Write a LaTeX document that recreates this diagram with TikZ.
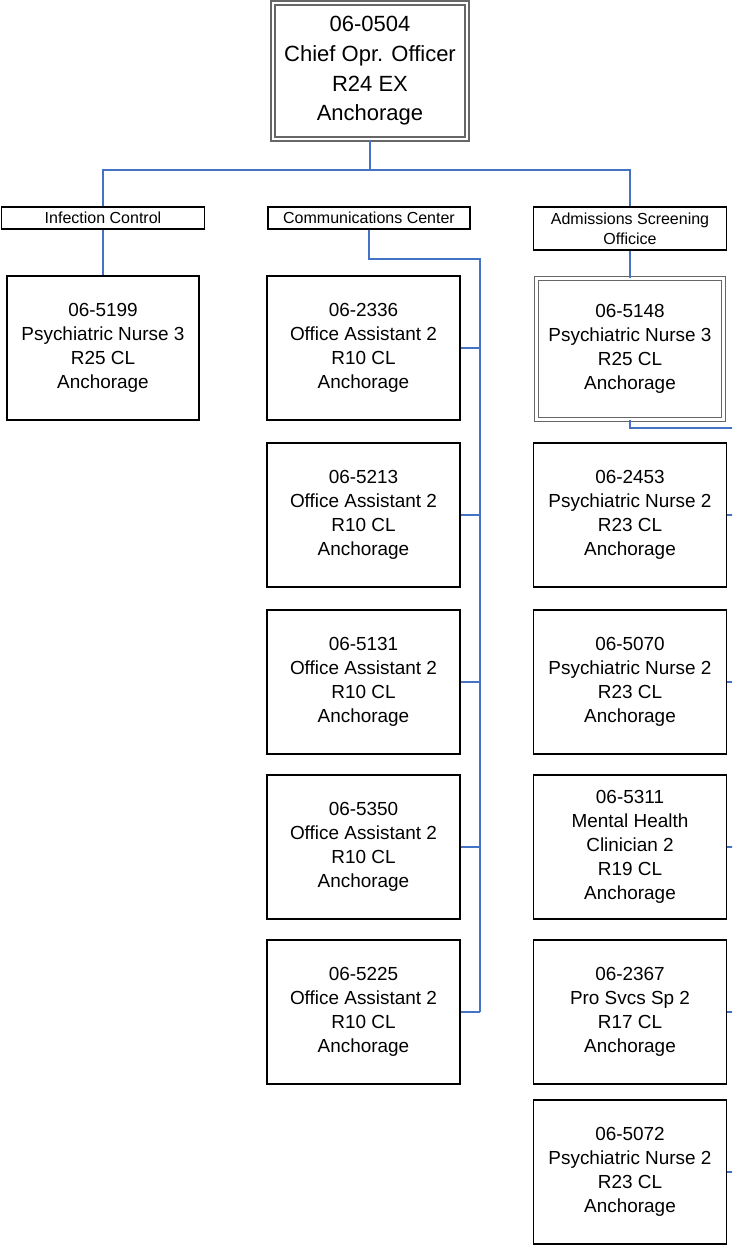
\documentclass[tikz,border=0pt]{standalone}
\usepackage{fontspec}
\setmainfont{Liberation Sans}
\usepackage{xcolor}
\usepackage{tikz}
\definecolor{linkblue}{RGB}{68,114,196}

\begin{document}
\begin{tikzpicture}[x=0.75pt, y=-0.75pt,
        post/.style={draw, line width=1.3pt, align=center, inner sep=0pt,
            minimum width=144.75pt, minimum height=108pt,
            font=\fontsize{14.2}{18}\selectfont},
        headpost/.style={post, draw=black!60, double=white, double distance=1.6pt, line width=1.1pt},
        unit/.style={draw, line width=1.3pt, align=center, inner sep=0pt,
            minimum height=16.5pt, font=\fontsize{12}{15}\selectfont},
        link/.style={draw=linkblue, line width=1.1pt}]
                                \useasboundingbox (0, 0) rectangle (732, 1245);
                                \clip (0, 0) rectangle (732, 1245);

                                \node (coo) at (370, 71) [headpost, minimum width=145.5pt, minimum height=102pt, font=\fontsize{16.5}{22.3}\selectfont] {06-0504\\Chief Opr. Officer\\R24 EX\\Anchorage};

                                \node (ic) at (103, 218) [unit, minimum width=152.25pt] {Infection Control};
                                \node (cc) at (369, 218) [unit, minimum width=151.5pt] {Communications Center};
                                \node (aso) at (630, 228.5) [unit, minimum width=144.75pt, minimum height=32.25pt] {Admissions Screening\\Officice};

                                \node (p5199) at (103, 348) [post, minimum width=144pt] {06-5199\\Psychiatric Nurse 3\\R25 CL\\Anchorage};

                                \node (o2336) at (363.5, 348) [post] {06-2336\\Office Assistant 2\\R10 CL\\Anchorage};
                                \node (o5213) at (363.5, 515) [post] {06-5213\\Office Assistant 2\\R10 CL\\Anchorage};
                                \node (o5131) at (363.5, 682) [post] {06-5131\\Office Assistant 2\\R10 CL\\Anchorage};
                                \node (o5350) at (363.5, 847) [post] {06-5350\\Office Assistant 2\\R10 CL\\Anchorage};
                                \node (o5225) at (363.5, 1012) [post] {06-5225\\Office Assistant 2\\R10 CL\\Anchorage};

                                \node (p5148) at (630, 349) [headpost, minimum width=140.25pt, minimum height=105.75pt] {06-5148\\Psychiatric Nurse 3\\R25 CL\\Anchorage};
                                \node (p2453) at (630, 515) [post] {06-2453\\Psychiatric Nurse 2\\R23 CL\\Anchorage};
                                \node (p5070) at (630, 682) [post] {06-5070\\Psychiatric Nurse 2\\R23 CL\\Anchorage};
                                \node (m5311) at (630, 847) [post] {06-5311\\Mental Health\\Clinician 2\\R19 CL\\Anchorage};
                                \node (s2367) at (630, 1012) [post] {06-2367\\Pro Svcs Sp 2\\R17 CL\\Anchorage};
                                \node (p5072) at (630, 1172) [post] {06-5072\\Psychiatric Nurse 2\\R23 CL\\Anchorage};

                                \coordinate (bus) at (370, 170);
                                \coordinate (cbus) at (480, 259);
                                \coordinate (rbus) at (736, 428);

                                \draw[link] (coo.south) -- (bus);
                                \draw[link] (ic.north) |- (bus) -| (aso.north);
                                \draw[link] (ic.south) -- (p5199.north);

                                \draw[link] (cc.south) |- (cbus) -- (cbus |- o5225.east);
                                \draw[link] (o2336.east) -- (o2336.east -| cbus);
                                \draw[link] (o5213.east) -- (o5213.east -| cbus);
                                \draw[link] (o5131.east) -- (o5131.east -| cbus);
                                \draw[link] (o5350.east) -- (o5350.east -| cbus);
                                \draw[link] (o5225.east) -- (o5225.east -| cbus);

                                \draw[link] (aso.south) -- (p5148.north);
                                \draw[link] (p5148.south) |- (rbus) -- (rbus |- p5072.east);
                                \draw[link] (p2453.east) -- (p2453.east -| rbus);
                                \draw[link] (p5070.east) -- (p5070.east -| rbus);
                                \draw[link] (m5311.east) -- (m5311.east -| rbus);
                                \draw[link] (s2367.east) -- (s2367.east -| rbus);
                                \draw[link] (p5072.east) -- (p5072.east -| rbus);
                            \end{tikzpicture}
\end{document}
